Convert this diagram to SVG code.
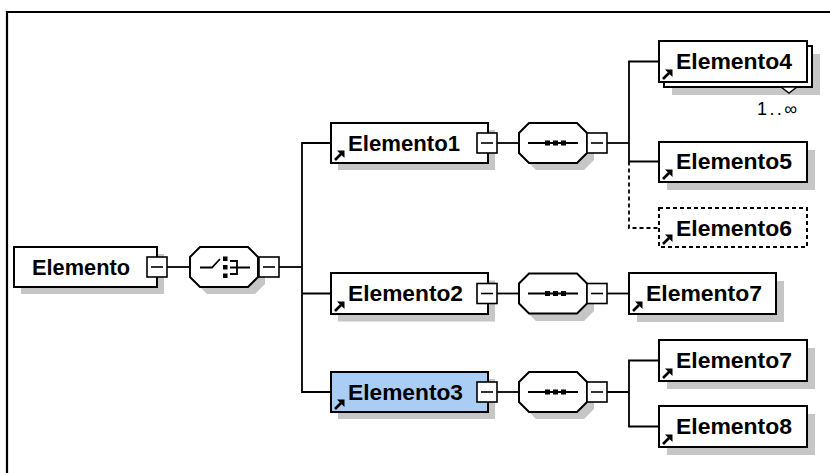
<svg xmlns="http://www.w3.org/2000/svg" width="830" height="473" viewBox="0 0 830 473">
<style>
.frame{fill:none;stroke:#000;stroke-width:2.2}
.box{fill:#fff;stroke:#000;stroke-width:2}
.sel{fill:#a9cdf4;stroke:#000;stroke-width:2}
.dbox{fill:#fff;stroke:#000;stroke-width:2;stroke-dasharray:4 3}
.sh{fill:#c6c6c6;stroke:none}
.mb{fill:#fff;stroke:#000;stroke-width:1.6}
.mn{stroke:#000;stroke-width:1.6}
.ln{fill:none;stroke:#000;stroke-width:1.8}
.dl{fill:none;stroke:#000;stroke-width:1.8;stroke-dasharray:4 3}
.t{font-family:"Liberation Sans",Arial,sans-serif;font-weight:bold;font-size:22px;fill:#000}
.m{font-family:"Liberation Sans",Arial,sans-serif;font-size:18px;fill:#000}
.ic{fill:none;stroke:#000;stroke-width:1.8}
.sq{fill:#000}
</style>
<defs>
<g id="arr"><path d="M0,0 L6,-6" stroke="#000" stroke-width="2.6"/><polygon points="9.5,-9.5 2,-9.5 9.5,-2" fill="#000"/></g>
<g id="minus"><rect class="mb" x="0" y="0" width="20" height="20"/><line class="mn" x1="4" y1="10" x2="16" y2="10"/></g>
<polygon id="oct" points="10,0 58,0 68,10 68,30 58,40 10,40 0,30 0,10"/>
<g id="seq"><use href="#oct" fill="#fff" stroke="#000" stroke-width="2"/><line class="ic" x1="9" y1="20" x2="59" y2="20"/><rect class="sq" x="26" y="17.5" width="5" height="5"/><rect class="sq" x="34" y="17.5" width="5" height="5"/><rect class="sq" x="42" y="17.5" width="5" height="5"/></g>
</defs>
<path class="frame" d="M7,473 V12 H830"/>

<g id="connectors">
<line class="ln" x1="167" y1="267" x2="190" y2="267"/>
<line class="ln" x1="279" y1="267" x2="302" y2="267"/>
<path class="ln" d="M331,143 H302 V392 H331 M302,293.5 H331"/>
<line class="ln" x1="497" y1="143" x2="519" y2="143"/>
<line class="ln" x1="607" y1="143" x2="629" y2="143"/>
<path class="ln" d="M659,61.5 H629 V161.5 H659"/>
<path class="dl" d="M629,161.5 V228 H659"/>
<line class="ln" x1="497" y1="293.5" x2="519" y2="293.5"/>
<line class="ln" x1="607" y1="293.5" x2="629" y2="293.5"/>
<line class="ln" x1="497" y1="392" x2="519" y2="392"/>
<path class="ln" d="M607,392 H629 M659,360.5 H629 V426.5 H659"/>
</g>

<g id="n-elemento">
<rect class="sh" x="21" y="254" width="143" height="40"/>
<rect class="box" x="14" y="247" width="143" height="40"/>
<text class="t" x="32" y="275" textLength="98" lengthAdjust="spacingAndGlyphs">Elemento</text>
<use href="#minus" x="147" y="257"/>
</g>

<g id="n-choice">
<use href="#oct" x="197" y="254" class="sh"/>
<use href="#oct" x="190" y="247" fill="#fff" stroke="#000" stroke-width="2"/>
<path class="ic" d="M200,267.5 H212 L220,259"/>
<rect class="sq" x="223" y="256.5" width="4.5" height="4.5"/>
<rect class="sq" x="223" y="265" width="4.5" height="4.5"/>
<rect class="sq" x="223" y="273.5" width="4.5" height="4.5"/>
<path class="ic" d="M230,261 H237 V274 H230 M230,267.5 H250"/>
<use href="#minus" x="259" y="257"/>
</g>

<g id="n-elemento1">
<rect class="sh" x="338" y="130" width="157" height="40"/>
<rect class="box" x="331" y="123" width="157" height="40"/>
<text class="t" x="348" y="150.5" textLength="112" lengthAdjust="spacingAndGlyphs">Elemento1</text>
<use href="#arr" x="335" y="160"/>
<use href="#minus" x="477" y="133"/>
</g>
<g id="n-seq1">
<use href="#oct" x="526" y="130" class="sh"/>
<use href="#seq" x="519" y="123"/>
<use href="#minus" x="587" y="133"/>
</g>

<g id="n-elemento4">
<rect class="sh" x="672" y="54" width="148" height="41"/>
<rect class="box" x="664" y="46" width="148" height="41"/>
<rect class="box" x="659" y="41" width="148" height="41"/>
<polygon points="781,87 797,87 789,93" fill="#fff" stroke="#000" stroke-width="1.4"/>
<text class="t" x="676" y="69" textLength="116" lengthAdjust="spacingAndGlyphs">Elemento4</text>
<use href="#arr" x="663" y="79"/>
<text class="m" x="757" y="115" textLength="40">1..∞</text>
</g>

<g id="n-elemento5">
<rect class="sh" x="667" y="150" width="148" height="40"/>
<rect class="box" x="659" y="142" width="148" height="40"/>
<text class="t" x="676" y="169" textLength="116" lengthAdjust="spacingAndGlyphs">Elemento5</text>
<use href="#arr" x="663" y="179"/>
</g>

<g id="n-elemento6">
<rect class="dbox" x="659" y="208" width="148" height="39"/>
<text class="t" x="676" y="235.5" textLength="116" lengthAdjust="spacingAndGlyphs">Elemento6</text>
<use href="#arr" x="663" y="244"/>
</g>

<g id="n-elemento2">
<rect class="sh" x="338" y="280.5" width="157" height="41"/>
<rect class="box" x="331" y="273" width="157" height="41"/>
<text class="t" x="348" y="301" textLength="115" lengthAdjust="spacingAndGlyphs">Elemento2</text>
<use href="#arr" x="335" y="311"/>
<use href="#minus" x="477" y="283.5"/>
</g>
<g id="n-seq2">
<use href="#oct" x="526" y="281" class="sh"/>
<use href="#seq" x="519" y="273.5"/>
<use href="#minus" x="587" y="283.5"/>
</g>

<g id="n-elemento7a">
<rect class="sh" x="637" y="281" width="147" height="41"/>
<rect class="box" x="629" y="273" width="147" height="41"/>
<text class="t" x="646" y="301" textLength="116" lengthAdjust="spacingAndGlyphs">Elemento7</text>
<use href="#arr" x="633" y="311"/>
</g>

<g id="n-elemento3">
<rect class="sh" x="338" y="379" width="157" height="40"/>
<rect class="sel" x="331" y="372" width="157" height="40"/>
<text class="t" x="348" y="399.5" textLength="115" lengthAdjust="spacingAndGlyphs">Elemento3</text>
<use href="#arr" x="335" y="409"/>
<use href="#minus" x="477" y="382"/>
</g>
<g id="n-seq3">
<use href="#oct" x="526" y="379" class="sh"/>
<use href="#seq" x="519" y="372"/>
<use href="#minus" x="587" y="382"/>
</g>

<g id="n-elemento7b">
<rect class="sh" x="667" y="348" width="148" height="41"/>
<rect class="box" x="659" y="340" width="148" height="41"/>
<text class="t" x="676" y="368" textLength="116" lengthAdjust="spacingAndGlyphs">Elemento7</text>
<use href="#arr" x="663" y="378"/>
</g>

<g id="n-elemento8">
<rect class="sh" x="667" y="414" width="148" height="41"/>
<rect class="box" x="659" y="406" width="148" height="41"/>
<text class="t" x="676" y="434" textLength="116" lengthAdjust="spacingAndGlyphs">Elemento8</text>
<use href="#arr" x="663" y="444"/>
</g>
</svg>
